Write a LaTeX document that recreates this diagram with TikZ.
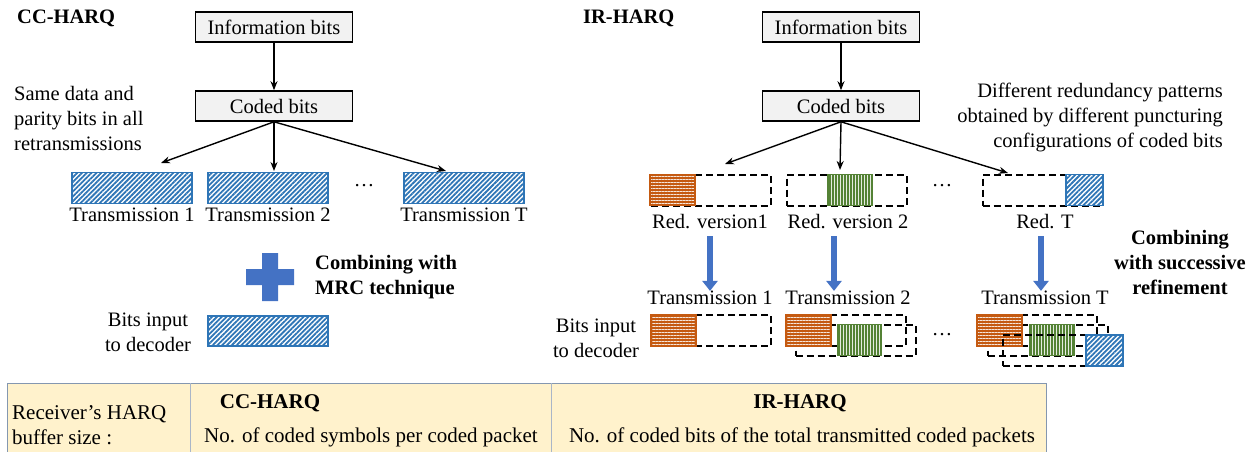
\documentclass[tikz,border=0pt]{standalone}
\usepackage{fontspec}
\setmainfont{Liberation Serif}
\usetikzlibrary{arrows.meta, patterns.meta}

\definecolor{boxgray}{HTML}{F2F2F2}
\definecolor{hatchblue}{HTML}{2E75B6}
\definecolor{rvorange}{HTML}{C55A11}
\definecolor{rvgreen}{HTML}{548235}
\definecolor{arrowblue}{HTML}{4472C4}
\definecolor{tablefill}{HTML}{FFF2CC}
\definecolor{tableedge}{HTML}{8497B0}

\newcommand\picfont{\fontsize{20.5}{25}\selectfont}

\tikzset{
  bitsbox/.style={draw, line width=1.6pt, fill=boxgray, minimum width=157pt, minimum height=30pt, inner sep=0pt},
  tree/.style={-{Stealth[length=9pt,width=7pt]}, line width=1.4pt},
  packet/.style={draw=hatchblue, line width=1.5pt, minimum width=120pt, minimum height=31pt, inner sep=0pt,
    preaction={fill=white}, pattern={Lines[angle=45,distance=3.4pt,line width=1.8pt]}, pattern color=hatchblue},
  rvframe/.style={draw, dash pattern=on 7pt off 4pt, line width=2pt, minimum width=120pt, minimum height=31pt, inner sep=0pt},
  rvone/.style={draw=rvorange, line width=1.5pt, minimum width=45pt, minimum height=31pt, inner sep=0pt,
    preaction={fill=rvorange}, pattern={Lines[angle=0,distance=3pt,line width=0.8pt]}, pattern color=white!85!rvorange},
  rvtwo/.style={draw=rvgreen, line width=1.5pt, minimum width=44pt, minimum height=31pt, inner sep=0pt,
    preaction={fill=rvgreen}, pattern={Lines[angle=90,distance=3pt,line width=0.8pt]}, pattern color=white!85!rvgreen},
  rvlast/.style={draw=hatchblue, line width=1.5pt, minimum width=37pt, minimum height=31pt, inner sep=0pt,
    preaction={fill=white}, pattern={Lines[angle=45,distance=3.4pt,line width=1.8pt]}, pattern color=hatchblue},
  merge/.style={-{Triangle[length=10pt,width=15pt]}, line width=5.5pt, draw=arrowblue},
  lbl/.style={inner sep=0pt},
  note/.style={inner sep=0pt, font=\picfont\bfseries},
}

\begin{document}
\begin{tikzpicture}[x=1pt, y=-1pt, font=\picfont]
  \useasboundingbox (0,0) rectangle (1248,452);

  % CC-HARQ side
  \node[note, anchor=west] (ccT) at (17,18) {CC-HARQ};
  \node[bitsbox] (infoL) at (274,27) {Information bits};
  \node[bitsbox] (codedL) at (274,106) {Coded bits};
  \draw[tree] (infoL) -- (codedL);
  \node[lbl, anchor=west, align=left] (sameL) at (14,118) {Same data and\\parity bits in all\\retransmissions};
  \node[packet] (txL1) at (132,188) {};
  \node[packet] (txL2) at (268,188) {};
  \node[packet] (txL3) at (464,188) {};
  \node[lbl] (dotsL) at (364,186) {…};
  \coordinate (tipL1) at (161,163);
  \coordinate (tipL2) at (274,171);
  \coordinate (tipL3) at (446,171);
  \foreach \t in {tipL1, tipL2, tipL3}
    \draw[tree] (codedL.south) -- (\t);
  \node[lbl] (labL1) at (132,215) {Transmission 1};
  \node[lbl] (labL2) at (268,215) {Transmission 2};
  \node[lbl] (labL3) at (464,215) {Transmission T};
  % plus sign
  \fill[arrowblue] (262,253) -- (278,253) -- (278,269) -- (294,269) -- (294,285) -- (278,285)
    -- (278,301) -- (262,301) -- (262,285) -- (246,285) -- (246,269) -- (262,269) -- cycle;
  \node[note, anchor=west, align=left] (mrc) at (315,277) {Combining with\\MRC technique};
  \node[lbl, align=center] (inL) at (148,332) {Bits input\\to decoder};
  \node[packet, minimum height=30pt] (decL) at (268,331) {};

  % IR-HARQ side
  \node[note, anchor=west] (irT) at (583,18) {IR-HARQ};
  \node[bitsbox] (infoR) at (841,27) {Information bits};
  \node[bitsbox] (codedR) at (841,106) {Coded bits};
  \draw[tree] (infoR) -- (codedR);
  \node[lbl, anchor=east, align=right] (diffR) at (1223,117) {Different redundancy patterns\\obtained by different puncturing\\configurations of coded bits};
  % redundancy versions
  \node[rvframe] (rv1) at (710.5,190) {};
  \node[rvone, anchor=west] (rv1a) at (rv1.west) {};
  \node[rvframe] (rv2) at (846.5,190) {};
  \node[rvtwo, anchor=west] (rv2a) at ([xshift=42pt]rv2.west) {};
  \node[rvframe] (rv3) at (1042.5,190) {};
  \node[rvlast, anchor=east] (rv3a) at (rv3.east) {};
  \node[lbl] (dotsR) at (942,186) {…};
  \coordinate (tipR1) at (725,164);
  \coordinate (tipR2) at (840,170);
  \coordinate (tipR3) at (1008,173);
  \foreach \t in {tipR1, tipR2, tipR3}
    \draw[tree] (codedR.south) -- (\t);
  \node[lbl] (rvl1) at (710,222) {Red. version1};
  \node[lbl] (rvl2) at (848,222) {Red. version 2};
  \node[lbl] (rvl3) at (1045,222) {Red. T};
  \node[lbl] (trR1) at (710,298) {Transmission 1};
  \node[lbl] (trR2) at (848,298) {Transmission 2};
  \node[lbl] (trR3) at (1045,298) {Transmission T};
  \draw[merge, shorten <=7pt] (rvl1.south) -- (trR1.north);
  \draw[merge, shorten <=7pt] ([xshift=-14pt]rvl2.south) -- ([xshift=-14pt]trR2.north);
  \draw[merge, shorten <=7pt] ([xshift=-4pt]rvl3.south) -- ([xshift=-4pt]trR3.north);
  \node[note, align=center] (succ) at (1180,262) {Combining\\with successive\\refinement};
  \node[lbl, align=center] (inR) at (596,338) {Bits input\\to decoder};
  % combined buffers
  \node[rvframe] (c1f) at (711,330.5) {};
  \node[rvone, anchor=west] (c1a) at (c1f.west) {};
  \node[rvframe] (c2f) at (846,330.5) {};
  \node[rvframe] (c2g) at (855.5,340) {};
  \node[rvone, anchor=west] (c2a) at (c2f.west) {};
  \node[rvtwo, anchor=west] (c2b) at ([xshift=42pt]c2g.west) {};
  \node[lbl] (dotsC) at (942,335) {…};
  \node[rvframe] (c3f) at (1037,330.5) {};
  \node[rvframe] (c3g) at (1048,340) {};
  \node[rvone, anchor=west] (c3a) at (c3f.west) {};
  \node[rvtwo, anchor=west] (c3b) at ([xshift=42pt]c3g.west) {};
  \node[rvframe] (c3h) at (1062.5,350.5) {};
  \node[rvlast, anchor=east] (c3c) at (c3h.east) {};

  % buffer size table
  \draw[draw=tableedge, line width=1pt, fill=tablefill] (7,383) rectangle (1046,470);
  \draw[tableedge!70, line width=0.8pt] (190,383) -- (190,452) (551,383) -- (551,452);
  \begin{scope}[font=\fontsize{21}{25}\selectfont]
    \node[lbl, anchor=west, align=left] (bufL) at (12,425) {Receiver's HARQ\\buffer size :};
    \node[note, font=\fontsize{21}{25}\selectfont\bfseries] (ccH) at (270,403) {CC-HARQ};
    \node[lbl] (ccB) at (371,437) {No. of coded symbols per coded packet};
    \node[note, font=\fontsize{21}{25}\selectfont\bfseries] (irH) at (800,403) {IR-HARQ};
    \node[lbl] (irB) at (802,437) {No. of coded bits of the total transmitted coded packets};
  \end{scope}
\end{tikzpicture}
\end{document}
